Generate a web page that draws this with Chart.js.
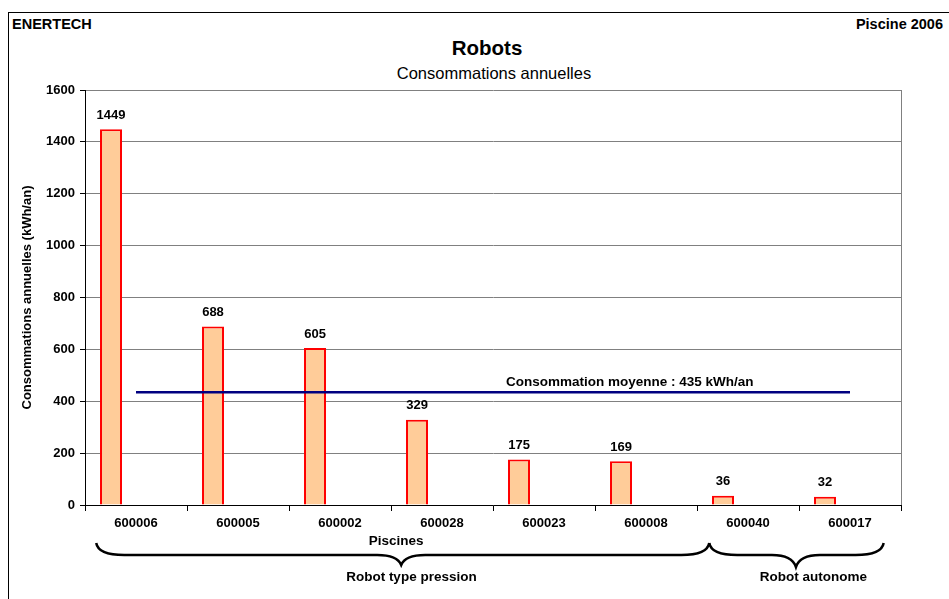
<!DOCTYPE html>
<html>
<head>
<meta charset="utf-8">
<script src="https://cdn.jsdelivr.net/npm/chart.js@4.4.1/dist/chart.umd.min.js"></script>
<style>
  body { margin: 0; width: 949px; height: 599px; overflow: hidden; background: #fff; position: relative;
         font-family: Arial, 'Liberation Sans', sans-serif; }
  #cadre { position: absolute; left: 8px; top: 12px; width: 980px; height: 640px; border: 1px solid #000; }
  .entete { position: absolute; top: 15px; font-size: 14.5px; font-weight: bold; line-height: 18px; }
  #titre { position: absolute; left: 0; width: 974px; top: 36px; text-align: center; font-size: 20.5px; font-weight: bold; line-height: 24px; }
  #soustitre { position: absolute; left: 0; width: 988px; top: 63px; text-align: center; font-size: 16.5px; line-height: 20px; }
  canvas { position: absolute; left: 0; top: 0; }
</style>
</head>
<body>
<div id="cadre"></div>
<div class="entete" style="left:12px">ENERTECH</div>
<div class="entete" style="right:6px">Piscine 2006</div>
<div id="titre">Robots</div>
<div id="soustitre">Consommations annuelles</div>
<canvas id="graph" width="949" height="599"></canvas>
<script>
// Données
const piscines = ['600006', '600005', '600002', '600028', '600023', '600008', '600040', '600017'];
const consommations = [1449, 688, 605, 329, 175, 169, 36, 32];
const moyenne = 435;
const graduationsY = [0, 200, 400, 600, 800, 1000, 1200, 1400, 1600];
const groupes = ['Robot type pression', 'Robot autonome'];

const police = "Arial, 'Liberation Sans', sans-serif";

// accolade sous l'axe
function accolade(ctx, x1, x2, xm, y, h, pointe) {
    ctx.beginPath();
    ctx.moveTo(x1, y);
    ctx.quadraticCurveTo(x1 + 2, y + h, x1 + 28, y + h);
    ctx.lineTo(xm - 24, y + h);
    ctx.quadraticCurveTo(xm - 4, y + h, xm, y + h + pointe);
    ctx.quadraticCurveTo(xm + 4, y + h, xm + 24, y + h);
    ctx.lineTo(x2 - 28, y + h);
    ctx.quadraticCurveTo(x2 - 2, y + h, x2, y);
    ctx.stroke();
}

const decor = {
    id: 'decor',
    afterDatasetsDraw(chart) {
        const ctx = chart.ctx;
        const x = chart.scales.x, y = chart.scales.y;
        const zone = chart.chartArea;
        ctx.save();

        // bord droit de la zone de tracé
        ctx.strokeStyle = '#808080';
        ctx.lineWidth = 1;
        ctx.beginPath();
        ctx.moveTo(Math.round(zone.right) + 0.5, zone.top);
        ctx.lineTo(Math.round(zone.right) + 0.5, zone.bottom);
        ctx.stroke();

        // étiquettes des barres
        ctx.fillStyle = '#000';
        ctx.font = 'bold 13px ' + police;
        ctx.textAlign = 'center';
        ctx.textBaseline = 'middle';
        chart.getDatasetMeta(0).data.forEach((barre, i) => {
            ctx.fillText(consommations[i], barre.x, barre.y - 14);
        });

        // texte de la moyenne
        ctx.font = 'bold 13.5px ' + police;
        ctx.fillText('Consommation moyenne : ' + moyenne + ' kWh/an', x.getPixelForValue(4.84), y.getPixelForValue(moyenne) - 10);

        // titre de l'axe X
        ctx.font = 'bold 13.5px ' + police;
        ctx.fillText('Piscines', x.getPixelForValue(2.55), 541);

        // accolades
        ctx.strokeStyle = '#000';
        ctx.lineWidth = 2.5;
        accolade(ctx, x.getPixelForValue(-0.39), x.getPixelForValue(5.62), x.getPixelForValue(2.6), 543, 12, 10);
        accolade(ctx, x.getPixelForValue(5.62), x.getPixelForValue(7.33), x.getPixelForValue(6.47), 543, 12, 12);
        ctx.font = 'bold 13.5px ' + police;
        ctx.fillText(groupes[0], x.getPixelForValue(2.7), 577);
        ctx.fillText(groupes[1], x.getPixelForValue(6.64), 577);
        ctx.restore();
    }
};

new Chart(document.getElementById('graph'), {
    data: {
        labels: piscines,
        datasets: [
            {
                type: 'bar', label: 'Consommation', data: consommations, order: 1,
                backgroundColor: '#FFCC99', borderColor: '#FF0000', borderWidth: 2,
                categoryPercentage: 0.98, barPercentage: 0.44
            },
            {
                type: 'bar', label: '', data: piscines.map(() => null), order: 2,
                categoryPercentage: 0.98, barPercentage: 0.44
            },
            {
                type: 'line', label: 'Moyenne', data: piscines.map(() => moyenne), order: 0,
                borderColor: '#000080', borderWidth: 2.5, pointRadius: 0, fill: false
            }
        ]
    },
    options: {
        responsive: false,
        animation: false,
        layout: { padding: { left: 20, right: 48, top: 90, bottom: 44 } },
        plugins: { legend: { display: false }, tooltip: { enabled: false } },
        scales: {
            x: {
                offset: true,
                grid: { drawOnChartArea: false, drawTicks: true, tickLength: 6, offset: true, color: '#000' },
                border: { color: '#000', width: 1 },
                ticks: { color: '#000', font: { family: police, size: 13, weight: 'bold' }, padding: 5, maxRotation: 0 },
                afterFit(s) { s.height = 50; }
            },
            y: {
                min: 0, max: 1600,
                afterBuildTicks(s) { s.ticks = graduationsY.map(v => ({ value: v })); },
                grid: { color: '#808080', tickColor: '#000', tickLength: 5 },
                border: { color: '#000', width: 1 },
                ticks: { color: '#000', font: { family: police, size: 13, weight: 'bold' }, padding: 5,
                         callback: v => String(v) },
                title: { display: true, text: 'Consommations annuelles (kWh/an)', color: '#000',
                         font: { family: police, size: 13, weight: 'bold' }, padding: { top: 0, bottom: 4 } },
                afterFit(s) { s.width = 65; }
            }
        }
    },
    plugins: [decor]
});
</script>
</body>
</html>
